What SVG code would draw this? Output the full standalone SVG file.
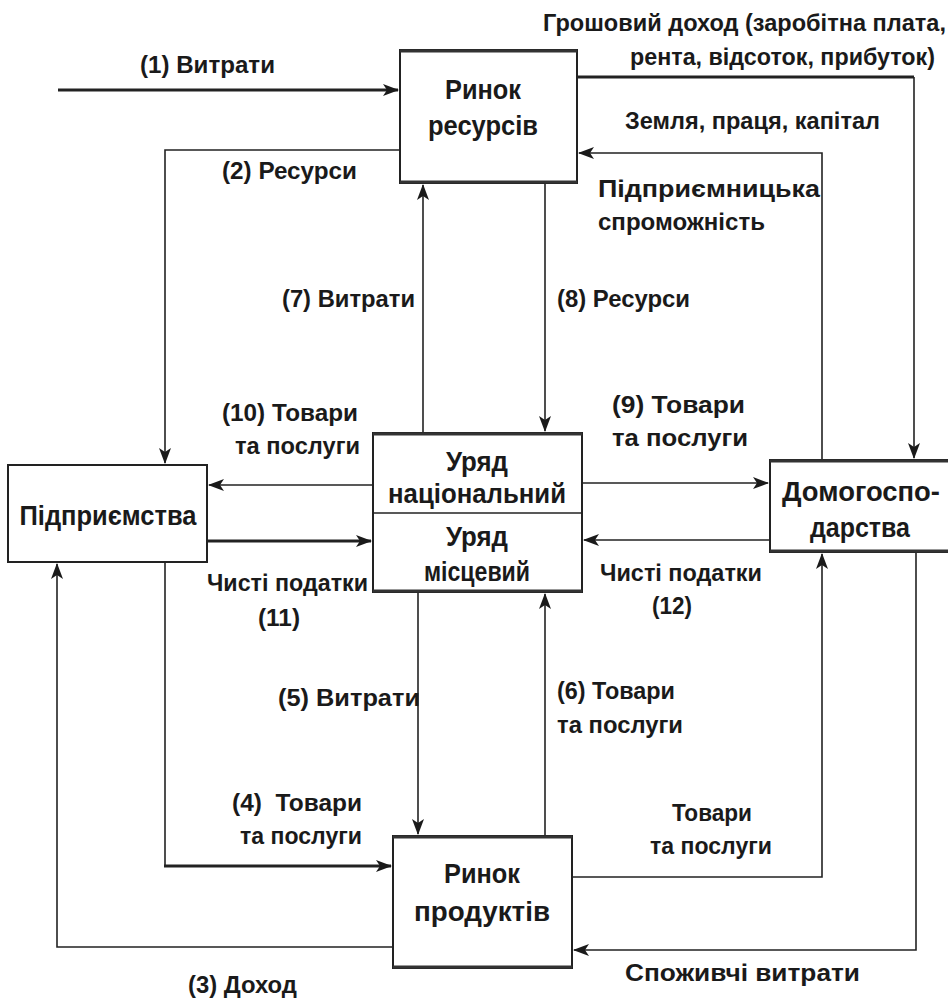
<svg xmlns="http://www.w3.org/2000/svg" width="948" height="1003" viewBox="0 0 948 1003">
<style>
text{font-family:"Liberation Sans",Arial,sans-serif;font-weight:bold;fill:#1a1a1a}
.l{font-size:23px}
.b{font-size:28px}
.box{fill:#fff;stroke:#222;stroke-width:2}
.c{fill:none;stroke:#222;stroke-width:1.6}
.t{fill:none;stroke:#222;stroke-width:3.2}
</style>
<defs>
<marker id="a" markerUnits="userSpaceOnUse" markerWidth="16" markerHeight="12" refX="15" refY="6" orient="auto">
<path d="M0,0 L16,6 L0,12 L4,6 Z" fill="#1a1a1a"/>
</marker>
</defs>
<g id="connectors">
<path class="t" d="M58,90 H398" marker-end="url(#a)"/>
<path class="t" d="M577,77 H914"/>
<path class="c" d="M914,77 V458" marker-end="url(#a)"/>
<path class="c" d="M822,460 V153 H579" marker-end="url(#a)"/>
<path class="c" d="M400,150 H165 V463" marker-end="url(#a)"/>
<path class="c" d="M423,433 V185" marker-end="url(#a)"/>
<path class="c" d="M545,183 V431" marker-end="url(#a)"/>
<path class="c" d="M373,485 H209" marker-end="url(#a)"/>
<path class="c" d="M582,483 H768" marker-end="url(#a)"/>
<path class="t" d="M207,541 H371" marker-end="url(#a)"/>
<path class="c" d="M770,540 H584" marker-end="url(#a)"/>
<path class="c" d="M418,592 V834" marker-end="url(#a)"/>
<path class="c" d="M545,836 V594" marker-end="url(#a)"/>
<path class="c" d="M165,562 V866"/>
<path class="t" d="M164,866 H391" marker-end="url(#a)"/>
<path class="c" d="M393,947 H57 V564" marker-end="url(#a)"/>
<path class="c" d="M572,877 H822 V554" marker-end="url(#a)"/>
<path class="c" d="M916,552 V950 H574" marker-end="url(#a)"/>
</g>
<g id="n-resource-market">
<rect class="box" x="400" y="50" width="177" height="133"/>
<path d="M400,51 H577 M400,182 H577" stroke="#333" stroke-width="3"/>
<text class="b" x="483" y="99" text-anchor="middle" textLength="76" lengthAdjust="spacingAndGlyphs">Ринок</text>
<text class="b" x="483" y="135" text-anchor="middle" textLength="110" lengthAdjust="spacingAndGlyphs">ресурсів</text>
</g>
<g id="n-firms">
<rect class="box" x="8" y="465" width="199" height="97"/>
<text class="b" x="108" y="525" text-anchor="middle" textLength="177" lengthAdjust="spacingAndGlyphs">Підприємства</text>
</g>
<g id="n-government">
<rect class="box" x="373" y="433" width="209" height="159"/>
<path d="M373,434 H582 M373,591 H582" stroke="#333" stroke-width="3"/>
<line x1="373" y1="513" x2="582" y2="513" stroke="#222" stroke-width="1.6"/>
<text class="b" x="477" y="471" text-anchor="middle" textLength="62" lengthAdjust="spacingAndGlyphs">Уряд</text>
<text class="b" x="477" y="503" text-anchor="middle" textLength="178" lengthAdjust="spacingAndGlyphs">національний</text>
<text class="b" x="477" y="546" text-anchor="middle" textLength="62" lengthAdjust="spacingAndGlyphs">Уряд</text>
<text class="b" x="477" y="581" text-anchor="middle" textLength="106" lengthAdjust="spacingAndGlyphs">місцевий</text>
</g>
<g id="n-households">
<rect class="box" x="770" y="460" width="180" height="92"/>
<path d="M770,461 H948 M770,551 H948" stroke="#333" stroke-width="3"/>
<text class="b" x="861" y="501" text-anchor="middle" textLength="158" lengthAdjust="spacingAndGlyphs">Домогоспо-</text>
<text class="b" x="860" y="537" text-anchor="middle" textLength="100" lengthAdjust="spacingAndGlyphs">дарства</text>
</g>
<g id="n-product-market">
<rect class="box" x="393" y="836" width="179" height="132"/>
<path d="M393,837 H572 M393,967 H572" stroke="#333" stroke-width="3"/>
<text class="b" x="482" y="883" text-anchor="middle" textLength="76" lengthAdjust="spacingAndGlyphs">Ринок</text>
<text class="b" x="482" y="921" text-anchor="middle" textLength="136" lengthAdjust="spacingAndGlyphs">продуктів</text>
</g>
<g id="labels">
<text class="l" x="543" y="31" textLength="403" lengthAdjust="spacingAndGlyphs">Грошовий доход (заробітна плата,</text>
<text class="l" x="630" y="65" textLength="305" lengthAdjust="spacingAndGlyphs">рента, відсоток, прибуток)</text>
<text class="l" x="140" y="73" textLength="135" lengthAdjust="spacingAndGlyphs">(1) Витрати</text>
<text class="l" x="625" y="129" textLength="255" lengthAdjust="spacingAndGlyphs">Земля, праця, капітал</text>
<text class="l" x="222" y="179" textLength="135" lengthAdjust="spacingAndGlyphs">(2) Ресурси</text>
<text class="l" x="598" y="197" textLength="222" lengthAdjust="spacingAndGlyphs">Підприємницька</text>
<text class="l" x="598" y="230" textLength="167" lengthAdjust="spacingAndGlyphs">спроможність</text>
<text class="l" x="282" y="307" textLength="133" lengthAdjust="spacingAndGlyphs">(7) Витрати</text>
<text class="l" x="557" y="307" textLength="133" lengthAdjust="spacingAndGlyphs">(8) Ресурси</text>
<text class="l" x="222" y="421" textLength="136" lengthAdjust="spacingAndGlyphs">(10) Товари</text>
<text class="l" x="235" y="454" textLength="125" lengthAdjust="spacingAndGlyphs">та послуги</text>
<text class="l" x="612" y="413" textLength="133" lengthAdjust="spacingAndGlyphs">(9) Товари</text>
<text class="l" x="612" y="446" textLength="136" lengthAdjust="spacingAndGlyphs">та послуги</text>
<text class="l" x="207" y="591" textLength="161" lengthAdjust="spacingAndGlyphs">Чисті податки</text>
<text class="l" x="258" y="626" textLength="42" lengthAdjust="spacingAndGlyphs">(11)</text>
<text class="l" x="600" y="581" textLength="162" lengthAdjust="spacingAndGlyphs">Чисті податки</text>
<text class="l" x="652" y="614" textLength="40" lengthAdjust="spacingAndGlyphs">(12)</text>
<text class="l" x="278" y="706" textLength="142" lengthAdjust="spacingAndGlyphs">(5) Витрати</text>
<text class="l" x="557" y="699" textLength="118" lengthAdjust="spacingAndGlyphs">(6) Товари</text>
<text class="l" x="557" y="733" textLength="126" lengthAdjust="spacingAndGlyphs">та послуги</text>
<text class="l" x="232" y="811" textLength="130" lengthAdjust="spacingAndGlyphs" xml:space="preserve">(4)  Товари</text>
<text class="l" x="240" y="844" textLength="122" lengthAdjust="spacingAndGlyphs">та послуги</text>
<text class="l" x="672" y="821" textLength="80" lengthAdjust="spacingAndGlyphs">Товари</text>
<text class="l" x="650" y="854" textLength="122" lengthAdjust="spacingAndGlyphs">та послуги</text>
<text class="l" x="188" y="993" textLength="109" lengthAdjust="spacingAndGlyphs">(3) Доход</text>
<text class="l" x="625" y="981" textLength="235" lengthAdjust="spacingAndGlyphs">Споживчі витрати</text>
</g>
</svg>
